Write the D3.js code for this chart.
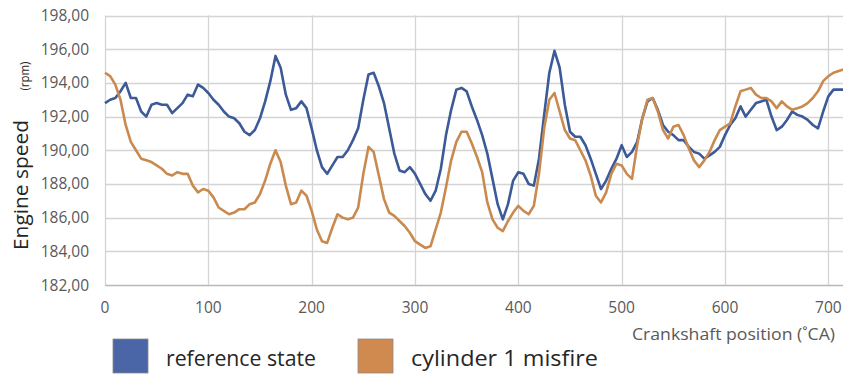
<!DOCTYPE html>
<html>
<head>
<meta charset="utf-8">
<script src="https://cdn.jsdelivr.net/npm/d3@7/dist/d3.min.js"></script>
<style>
  html, body { margin: 0; padding: 0; background: #fff; }
  svg { display: block; }
  text { font-family: "Open Sans", "Liberation Sans", sans-serif; }
</style>
</head>
<body>
<svg id="chart" width="843" height="376"></svg>
<script>
// ---- data ----
const angles = d3.range(0, 721, 5); // crankshaft position (°CA)
const referenceState = [
  192.8, 193.0, 193.1, 193.5, 194.0, 193.1, 193.1, 192.3, 192.0, 192.7,
  192.8, 192.7, 192.7, 192.2, 192.5, 192.8, 193.3, 193.2, 193.9, 193.7,
  193.4, 193.0, 192.7, 192.3, 192.0, 191.9, 191.6, 191.1, 190.9, 191.2,
  191.9, 192.9, 194.1, 195.6, 194.9, 193.3, 192.4, 192.5, 192.9, 192.5,
  191.3, 190.0, 189.0, 188.6, 189.1, 189.6, 189.6, 190.0, 190.6, 191.3,
  193.0, 194.5, 194.6, 193.8, 192.8, 191.3, 189.8, 188.8, 188.7, 189.0,
  188.6, 188.0, 187.4, 187.0, 187.6, 188.9, 190.9, 192.4, 193.6, 193.7,
  193.5, 192.6, 191.8, 190.9, 189.8, 188.3, 186.8, 185.9, 186.8, 188.2,
  188.7, 188.6, 188.0, 187.9, 189.5, 192.1, 194.6, 195.9, 194.9, 192.7,
  191.1, 190.8, 190.8, 190.3, 189.5, 188.6, 187.7, 188.2, 188.9, 189.5,
  190.3, 189.6, 189.9, 190.5, 191.9, 192.9, 193.1, 192.4, 191.5, 191.1,
  190.9, 190.6, 190.6, 190.2, 189.9, 189.8, 189.5, 189.7, 189.9, 190.2,
  190.9, 191.5, 191.9, 192.6, 192.0, 192.4, 192.8, 192.9, 193.0, 192.0,
  191.2, 191.4, 191.8, 192.3, 192.1, 192.0, 191.8, 191.5, 191.3, 192.3,
  193.2, 193.6, 193.6, 193.6, 193.6
];
const cylinder1Misfire = [
  194.6, 194.4, 193.9, 193.0, 191.5, 190.5, 190.0, 189.5, 189.4, 189.3,
  189.1, 188.9, 188.6, 188.5, 188.7, 188.6, 188.6, 187.9, 187.5, 187.7,
  187.6, 187.2, 186.6, 186.4, 186.2, 186.3, 186.5, 186.5, 186.8, 186.9,
  187.4, 188.2, 189.2, 190.0, 189.3, 187.9, 186.8, 186.9, 187.6, 187.3,
  186.4, 185.3, 184.6, 184.5, 185.4, 186.2, 186.0, 185.9, 186.0, 186.6,
  188.6, 190.2, 189.9, 188.5, 187.1, 186.3, 186.1, 185.8, 185.5, 185.1,
  184.6, 184.4, 184.2, 184.3, 185.3, 186.3, 187.8, 189.4, 190.5, 191.1,
  191.1, 190.4, 189.6, 188.7, 186.9, 185.9, 185.4, 185.2, 185.8, 186.3,
  186.7, 186.4, 186.2, 186.7, 188.6, 191.3, 193.0, 193.4, 192.3, 191.2,
  190.7, 190.6, 190.0, 189.4, 188.5, 187.3, 186.9, 187.5, 188.6, 189.2,
  189.1, 188.6, 188.3, 190.3, 191.9, 193.0, 193.1, 192.3, 191.2, 190.7,
  191.4, 191.5, 190.9, 190.1, 189.4, 189.0, 189.4, 189.9, 190.6, 191.2,
  191.4, 191.6, 192.6, 193.5, 193.6, 193.7, 193.3, 193.1, 193.1, 192.9,
  192.5, 192.9, 192.6, 192.4, 192.5, 192.6, 192.8, 193.1, 193.5, 194.1,
  194.4, 194.6, 194.7, 194.8, 194.8
];
const yTicks = [182, 184, 186, 188, 190, 192, 194, 196, 198];
const xTicks = [0, 100, 200, 300, 400, 500, 600, 700];
const seriesNames = ["reference state", "cylinder 1 misfire"];
const seriesColors = ["#3b5a97", "#c98a50"];
const legendColors = ["#4a66a6", "#d0894f"];

// ---- layout ----
const svg = d3.select("#chart");
const x = d3.scaleLinear().domain([0, 720]).range([105, 849]);
const y = d3.scaleLinear().domain([182, 198]).range([285, 15.5]);

const fmt = v => d3.format(".2f")(v).replace(".", ",");

// grid
svg.append("g").selectAll("line").data(yTicks).join("line")
  .attr("x1", 105).attr("x2", 849)
  .attr("y1", d => Math.round(y(d)) + 0.5).attr("y2", d => Math.round(y(d)) + 0.5)
  .attr("stroke", d => d === 182 ? "#b8b8b8" : "#d4d4d4").attr("stroke-width", 1.3);
svg.append("g").selectAll("line").data(xTicks).join("line")
  .attr("y1", y(198)).attr("y2", y(182))
  .attr("x1", d => Math.round(x(d)) + 0.5).attr("x2", d => Math.round(x(d)) + 0.5)
  .attr("stroke", "#d4d4d4").attr("stroke-width", 1.3);

// y tick labels
svg.append("g").selectAll("text").data(yTicks).join("text")
  .attr("x", 89).attr("y", d => y(d) + 5.5)
  .attr("text-anchor", "end").attr("font-size", 15.5).attr("fill", "#595959")
  .text(fmt);

// x tick labels
svg.append("g").selectAll("text").data(xTicks).join("text")
  .attr("x", d => x(d)).attr("y", 313)
  .attr("text-anchor", "middle").attr("font-size", 15.5).attr("fill", "#595959")
  .text(d => d);

// lines
const line = d3.line().x((d, i) => x(angles[i])).y(d => y(d));
[referenceState, cylinder1Misfire].forEach((s, k) => {
  svg.append("path").datum(s)
    .attr("fill", "none").attr("stroke", seriesColors[k])
    .attr("stroke-width", 2.6).attr("stroke-linejoin", "round")
    .attr("d", line);
});

// y axis title
svg.append("text")
  .attr("transform", "translate(28,185) rotate(-90)")
  .attr("text-anchor", "middle").attr("fill", "#262626")
  .attr("font-size", 19.5).attr("textLength", 130).attr("lengthAdjust", "spacingAndGlyphs")
  .text("Engine speed");
svg.append("text")
  .attr("transform", "translate(29,76) rotate(-90)")
  .attr("text-anchor", "middle").attr("fill", "#262626")
  .attr("font-size", 13).attr("textLength", 29).attr("lengthAdjust", "spacingAndGlyphs")
  .text("(rpm)");

// x axis title
svg.append("text").attr("x", 835).attr("y", 340)
  .attr("text-anchor", "end").attr("font-size", 16.5).attr("fill", "#595959")
  .attr("textLength", 203).attr("lengthAdjust", "spacingAndGlyphs")
  .text("Crankshaft position (˚CA)");

// legend
const legX = [113, 358];
const legW = [150, 187];
const legG = svg.append("g");
seriesNames.forEach((n, k) => {
  legG.append("rect").attr("x", legX[k]).attr("y", 339)
    .attr("width", 35).attr("height", 34)
    .attr("fill", legendColors[k]).attr("stroke", "#8a8a8a").attr("stroke-width", 0.8);
  legG.append("text").attr("x", legX[k] + 53).attr("y", 366)
    .attr("font-size", 21.5).attr("fill", "#262626")
    .attr("textLength", legW[k]).attr("lengthAdjust", "spacingAndGlyphs")
    .text(n);
});
</script>
</body>
</html>
